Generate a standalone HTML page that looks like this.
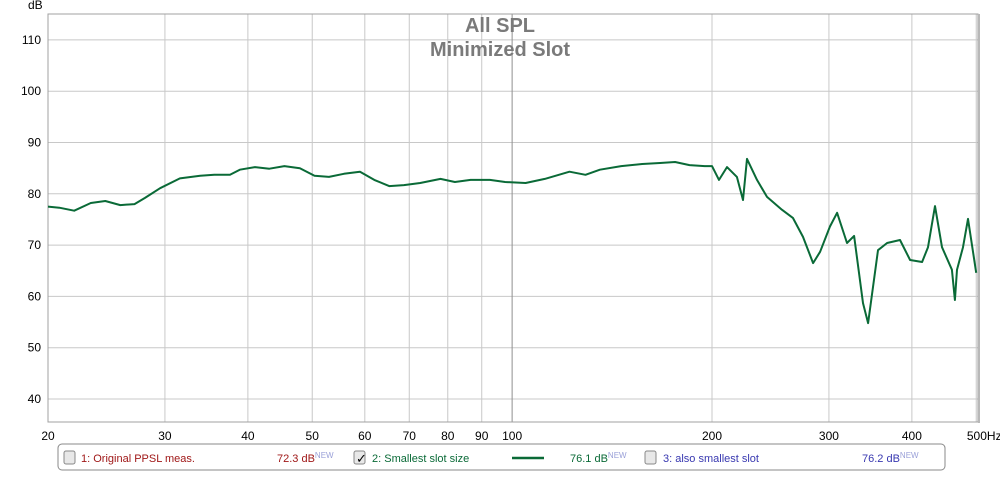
<!DOCTYPE html>
<html><head><meta charset="utf-8">
<style>
body{margin:0;background:#fff;font-family:"Liberation Sans",sans-serif;}
svg text{font-family:"Liberation Sans",sans-serif;}
</style></head>
<body>
<svg id="chart" width="1000" height="472" xmlns="http://www.w3.org/2000/svg">
<rect x="0" y="0" width="1000" height="472" fill="#fff"/>
<g id="grid"></g>
<rect x="48" y="14" width="930" height="408" fill="none" stroke="#a0a0a0" stroke-width="1"/>
<line x1="979" y1="14" x2="979" y2="423" stroke="#b8b8b8" stroke-width="2"/>
<text x="28" y="9" font-size="12" fill="#000">dB</text>
<text x="500" y="32" font-size="20" font-weight="bold" fill="#7a7a7a" text-anchor="middle">All SPL</text>
<text x="500" y="56" font-size="20" font-weight="bold" fill="#7a7a7a" text-anchor="middle">Minimized Slot</text>
<g id="ticks"></g>
<path id="series" fill="none" stroke="#0a6a37" stroke-width="2" stroke-linejoin="round"/>
<g>
<rect x="58" y="444" width="887" height="26" rx="4" fill="#fff" stroke="#888"/>
<rect x="64" y="451" width="11" height="13" rx="2" fill="#e8e8e8" stroke="#888"/>
<text x="81" y="462" font-size="11" fill="#a01818">1: Original PPSL meas.</text>
<text x="277" y="462" font-size="11" fill="#a01818">72.3 dB<tspan font-size="8" dy="-4" fill="#9aa0d8">NEW</tspan></text>
<rect x="354" y="451" width="11" height="13" rx="2" fill="#e8e8e8" stroke="#888"/>
<text x="356" y="463" font-size="13" fill="#000">✓</text>
<text x="372" y="462" font-size="11" fill="#0a6a37">2: Smallest slot size</text>
<line x1="512" y1="458" x2="544" y2="458" stroke="#0a6a37" stroke-width="2.5"/>
<text x="570" y="462" font-size="11" fill="#0a6a37">76.1 dB<tspan font-size="8" dy="-4" fill="#9aa0d8">NEW</tspan></text>
<rect x="645" y="451" width="11" height="13" rx="2" fill="#e8e8e8" stroke="#888"/>
<text x="663" y="462" font-size="11" fill="#3838b0">3: also smallest slot</text>
<text x="862" y="462" font-size="11" fill="#3838b0">76.2 dB<tspan font-size="8" dy="-4" fill="#9aa0d8">NEW</tspan></text>
</g>
</svg>
<script>
const freqs=[20,20.8,21.9,23.2,24.4,25.7,27.0,28.0,29.5,31.6,33.9,35.6,37.6,38.9,41.0,43.1,45.4,47.9,50.4,53.0,55.8,59.0,62,65.3,68.7,72.7,78.0,82,86.6,92.6,97.6,104.8,112,122,129,135.6,146,157,167,176,185,195,200,204.9,210.7,218,222.7,225.8,233.8,242,254.9,264.8,274.2,284,291,301,308.6,319.4,327.4,337.6,343.6,355.7,367,383.8,397.5,414.4,423,433.4,444,459.6,464.4,467.8,477.6,486,500];
const spl=[77.5,77.3,76.7,78.2,78.6,77.8,78.0,79.2,81.1,83.0,83.5,83.7,83.7,84.7,85.2,84.9,85.4,85.0,83.5,83.3,83.9,84.3,82.7,81.5,81.7,82.1,82.9,82.3,82.7,82.7,82.3,82.1,82.9,84.3,83.7,84.7,85.4,85.8,86.0,86.2,85.6,85.4,85.4,82.7,85.2,83.3,78.8,86.8,82.7,79.4,76.9,75.3,71.6,66.5,68.7,73.6,76.3,70.4,71.8,58.7,54.8,69.0,70.4,71.0,67.1,66.7,69.6,77.6,69.6,65.2,59.3,65.2,69.6,75.1,64.6];
const yTicks=[40,50,60,70,80,90,100,110];
const xTicks=[20,30,40,50,60,70,80,90,100,200,300,400,500];
const xTickLabels=["20","30","40","50","60","70","80","90","100","200","300","400","500Hz"];
const X0=48,PXDEC=664,Y40=399,PX10=51.3;
function xs(f){return X0+PXDEC*Math.log10(f/20);}
function ys(v){return Y40-(v-40)/10*PX10;}
const NS="http://www.w3.org/2000/svg";
const grid=document.getElementById('grid'),ticks=document.getElementById('ticks');
yTicks.forEach(v=>{
 const l=document.createElementNS(NS,'line');
 
 
 l.setAttribute('x1',48);l.setAttribute('x2',978);l.setAttribute('y1',ys(v));l.setAttribute('y2',ys(v));
 l.setAttribute('stroke','#c8c8c8');grid.appendChild(l);
 const t=document.createElementNS(NS,'text');
 
 
 t.setAttribute('x',41);t.setAttribute('y',ys(v)+4);t.setAttribute('text-anchor','end');t.setAttribute('font-size','12');
 t.textContent=v;ticks.appendChild(t);
});
xTicks.forEach((f,i)=>{
 const l=document.createElementNS(NS,'line');
 
 
 l.setAttribute('x1',xs(f));l.setAttribute('x2',xs(f));l.setAttribute('y1',14);l.setAttribute('y2',422);
 l.setAttribute('stroke',f===100?'#909090':'#c8c8c8');grid.appendChild(l);
 const t=document.createElementNS(NS,'text');
 
 
 t.setAttribute('x',f===500?xs(f)+8:xs(f));t.setAttribute('y',440);t.setAttribute('text-anchor','middle');t.setAttribute('font-size','12');
 t.textContent=xTickLabels[i];ticks.appendChild(t);
});
document.getElementById('series').setAttribute('d',freqs.map((f,i)=>(i?'L':'M')+xs(f).toFixed(1)+','+ys(spl[i]).toFixed(1)).join(''));
</script>
</body></html>
